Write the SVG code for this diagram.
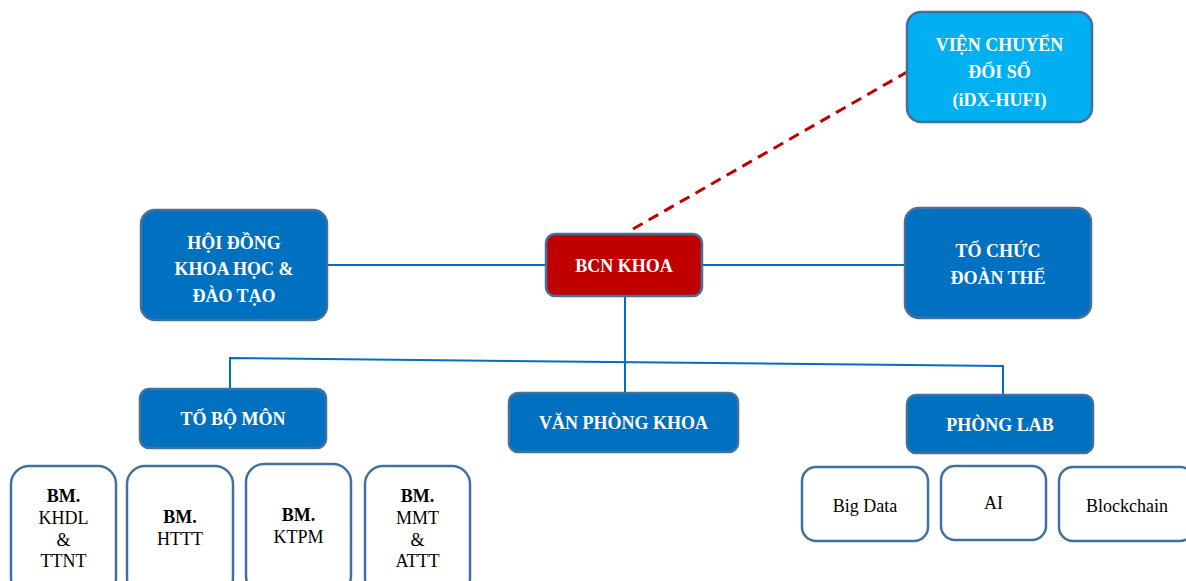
<svg xmlns="http://www.w3.org/2000/svg" width="1186" height="581" viewBox="0 0 1186 581">
<style>
.box{stroke:#41719C;stroke-width:2.5}
.blue{fill:#0070C0}
.cyan{fill:#00B0F0}
.red{fill:#C00000}
.white{fill:#FFFFFF}
.tw{font-family:"Liberation Serif","Times New Roman",serif;font-size:18px;font-weight:bold;fill:#FFFFFF;text-anchor:middle}
.tb{font-family:"Liberation Serif","Times New Roman",serif;font-size:18px;fill:#000000;text-anchor:middle}
.bold{font-weight:bold}
.conn{stroke:#0070C0;stroke-width:2;fill:none}
.dash{stroke:#C00000;stroke-width:3;fill:none;stroke-dasharray:11,7}
</style>
<rect width="1186" height="581" fill="#FFFFFF"/>
<g id="connectors">
<line class="dash" x1="633" y1="229" x2="907" y2="72"/>
<line class="conn" x1="327" y1="265" x2="546" y2="265"/>
<line class="conn" x1="702" y1="265" x2="905" y2="265"/>
<line class="conn" x1="625" y1="296" x2="625" y2="393"/>
<polyline class="conn" points="230,389 230,358 1003,366 1003,395"/>
</g>
<g id="vien">
<rect class="box cyan" x="907" y="12" width="185" height="110" rx="14"/>
<text class="tw" x="999.5" y="51">VIỆN CHUYỂN</text>
<text class="tw" x="999.5" y="78">ĐỔI SỐ</text>
<text class="tw" x="999.5" y="106">(iDX-HUFI)</text>
</g>
<g id="hoidong">
<rect class="box blue" x="141" y="210" width="186" height="110" rx="14"/>
<text class="tw" x="234" y="249">HỘI ĐỒNG</text>
<text class="tw" x="234" y="275">KHOA HỌC &amp;</text>
<text class="tw" x="234" y="302">ĐÀO TẠO</text>
</g>
<g id="bcn">
<rect class="box red" x="546" y="234" width="156" height="62" rx="9"/>
<text class="tw" x="624" y="272">BCN KHOA</text>
</g>
<g id="tochuc">
<rect class="box blue" x="905" y="208" width="186" height="110" rx="14"/>
<text class="tw" x="998" y="257">TỔ CHỨC</text>
<text class="tw" x="998" y="284">ĐOÀN THỂ</text>
</g>
<g id="tobomon">
<rect class="box blue" x="140" y="389" width="186" height="59" rx="9"/>
<text class="tw" x="233" y="425">TỔ BỘ MÔN</text>
</g>
<g id="vanphong">
<rect class="box blue" x="509" y="393" width="229" height="59" rx="9"/>
<text class="tw" x="623.5" y="429">VĂN PHÒNG KHOA</text>
</g>
<g id="phonglab">
<rect class="box blue" x="907" y="395" width="186" height="58" rx="9"/>
<text class="tw" x="1000" y="431">PHÒNG LAB</text>
</g>
<g id="bm-khdl">
<rect class="box white" x="11" y="466" width="105" height="130" rx="18"/>
<text class="tb bold" x="63.5" y="502">BM.</text>
<text class="tb" x="63.5" y="524">KHDL</text>
<text class="tb" x="63.5" y="546">&amp;</text>
<text class="tb" x="63.5" y="567">TTNT</text>
</g>
<g id="bm-httt">
<rect class="box white" x="127" y="466" width="106" height="130" rx="18"/>
<text class="tb bold" x="180" y="523">BM.</text>
<text class="tb" x="180" y="545">HTTT</text>
</g>
<g id="bm-ktpm">
<rect class="box white" x="246" y="464" width="105" height="130" rx="18"/>
<text class="tb bold" x="298.5" y="521">BM.</text>
<text class="tb" x="298.5" y="543">KTPM</text>
</g>
<g id="bm-mmt">
<rect class="box white" x="365" y="466" width="105" height="130" rx="18"/>
<text class="tb bold" x="417.5" y="502">BM.</text>
<text class="tb" x="417.5" y="524">MMT</text>
<text class="tb" x="417.5" y="546">&amp;</text>
<text class="tb" x="417.5" y="567">ATTT</text>
</g>
<g id="bigdata">
<rect class="box white" x="802" y="467" width="126" height="74" rx="14"/>
<text class="tb" x="865" y="512">Big Data</text>
</g>
<g id="ai">
<rect class="box white" x="941" y="466" width="105" height="74" rx="14"/>
<text class="tb" x="993.5" y="509">AI</text>
</g>
<g id="blockchain">
<rect class="box white" x="1059" y="467" width="135" height="74" rx="14"/>
<text class="tb" x="1127" y="512">Blockchain</text>
</g>
</svg>
